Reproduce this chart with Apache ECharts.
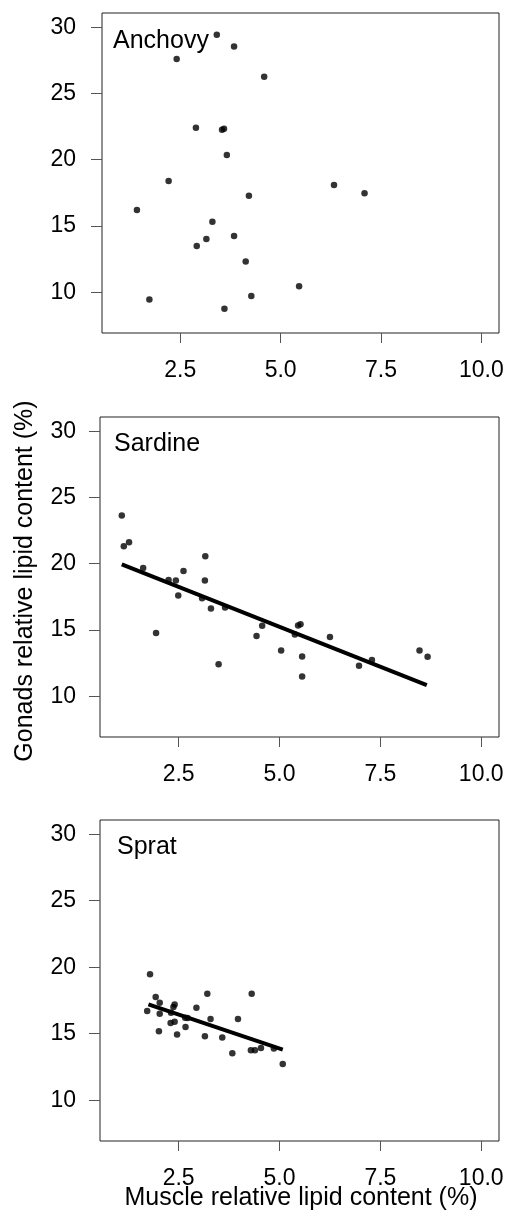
<!DOCTYPE html>
<html>
<head>
<meta charset="utf-8">
<script src="https://cdn.jsdelivr.net/npm/echarts@6/dist/echarts.min.js"></script>
<style>
  html, body { margin: 0; padding: 0; background: #fff; }
  #chart-container { width: 507px; height: 1216px; }
</style>
</head>
<body>
<div id="chart-container"></div>
<script>
// 数据
const xTicks = [2.5, 5, 7.5, 10];
const yTicks = [10, 15, 20, 25, 30];

const anchovyX = [3.41, 3.84, 2.41, 4.59, 2.89, 3.54, 3.59, 3.66, 2.21, 6.33, 7.09, 4.21, 1.42, 3.30, 3.15, 2.91, 3.84, 4.13, 5.46, 1.73, 4.27, 3.60];
const anchovyY = [29.42, 28.54, 27.6, 26.27, 22.42, 22.27, 22.34, 20.36, 18.39, 18.09, 17.48, 17.28, 16.2, 15.32, 14.03, 13.5, 14.24, 12.33, 10.46, 9.46, 9.73, 8.75];

const sardineX = [1.09, 1.14, 1.27, 1.62, 2.25, 2.43, 2.62, 3.16, 3.15, 2.49, 3.08, 3.30, 3.65, 1.94, 4.57, 4.43, 3.49, 5.04, 5.38, 5.46, 5.52, 6.25, 5.56, 5.56, 6.97, 7.29, 8.47, 8.67];
const sardineY = [23.63, 21.32, 21.62, 19.68, 18.78, 18.73, 19.46, 20.57, 18.73, 17.6, 17.4, 16.63, 16.7, 14.77, 15.32, 14.54, 12.41, 13.46, 14.67, 15.35, 15.43, 14.47, 13.0, 11.5, 12.3, 12.73, 13.46, 12.98];
const sardineFitX = [1.09, 8.65];
const sardineFitY = [19.96, 10.85];

const spratX = [1.79, 1.93, 2.03, 2.03, 1.72, 2.40, 2.37, 2.31, 2.94, 3.21, 4.31, 2.66, 2.72, 2.30, 2.40, 3.29, 3.97, 2.01, 2.46, 2.67, 3.15, 3.58, 3.83, 4.29, 4.39, 4.54, 4.86, 5.08];
const spratY = [19.47, 17.75, 17.33, 16.5, 16.7, 17.2, 17.0, 16.57, 16.95, 18.0, 18.0, 16.2, 16.18, 15.8, 15.9, 16.1, 16.1, 15.18, 14.93, 15.5, 14.8, 14.72, 13.52, 13.75, 13.75, 13.92, 13.88, 12.72];
const spratFitX = [1.75, 5.08];
const spratFitY = [17.21, 13.8];

const panelNames = ['Anchovy', 'Sardine', 'Sprat'];

document.addEventListener('DOMContentLoaded', () => {
    const chart = echarts.init(document.getElementById('chart-container'));
    const font = '"Liberation Sans", Arial, Helvetica, sans-serif';
    const zip = (xs, ys) => xs.map((x, i) => [x, ys[i]]);

    const grids = [
        { left: 102, top: 13, width: 397, height: 320 },
        { left: 100, top: 417, width: 399, height: 320 },
        { left: 100, top: 820, width: 399, height: 321 }
    ];
    const labelPos = [[113, 42], [114, 445], [117, 848]];

    const xAxes = grids.map((g, i) => ({
        type: 'value', gridIndex: i, min: 0.55, max: 10.44,
        splitLine: { show: false },
        axisLine: { show: false },
        axisTick: { show: true, length: 10, lineStyle: { color: '#555' }, customValues: xTicks },
        axisLabel: {
            customValues: xTicks, margin: 26, fontSize: 23, color: '#000', fontFamily: font,
            formatter: v => v.toFixed(1)
        }
    }));
    const yAxes = grids.map((g, i) => ({
        type: 'value', gridIndex: i, min: 6.93, max: 31.07,
        splitLine: { show: false },
        axisLine: { show: false },
        axisTick: { show: true, length: 11, lineStyle: { color: '#555' }, customValues: yTicks },
        axisLabel: { customValues: yTicks, margin: i === 0 ? 26 : 24, fontSize: 23, color: '#000', fontFamily: font }
    }));

    const pts = (idx, data) => ({
        type: 'scatter', xAxisIndex: idx, yAxisIndex: idx, data,
        symbolSize: 6.5, itemStyle: { color: '#000' }, silent: true
    });
    const fit = (idx, data) => ({
        type: 'line', xAxisIndex: idx, yAxisIndex: idx, data,
        showSymbol: false, lineStyle: { color: '#000', width: 4 }, silent: true
    });

    const option = {
        animation: false,
        grid: grids.map(g => Object.assign({ show: true, borderColor: '#222', borderWidth: 1, backgroundColor: 'transparent' }, g)),
        xAxis: xAxes,
        yAxis: yAxes,
        series: [
            pts(0, zip(anchovyX, anchovyY)),
            pts(1, zip(sardineX, sardineY)),
            fit(1, zip(sardineFitX, sardineFitY)),
            pts(2, zip(spratX, spratY)),
            fit(2, zip(spratFitX, spratFitY))
        ],
        graphic: [
            ...panelNames.map((name, i) => ({
                type: 'text', left: labelPos[i][0], top: labelPos[i][1] - 13,
                style: { text: name, fontSize: 25, fontFamily: font, fill: '#000' }
            })),
            {
                type: 'text', x: 25, y: 581, rotation: Math.PI / 2,
                style: { text: 'Gonads relative lipid content (%)', fontSize: 25, fontFamily: font, fill: '#000', align: 'center', verticalAlign: 'middle' }
            },
            {
                type: 'text', x: 301, y: 1198,
                style: { text: 'Muscle relative lipid content (%)', fontSize: 25, fontFamily: font, fill: '#000', align: 'center', verticalAlign: 'middle' }
            }
        ]
    };

    chart.setOption(option);
});
</script>
</body>
</html>
